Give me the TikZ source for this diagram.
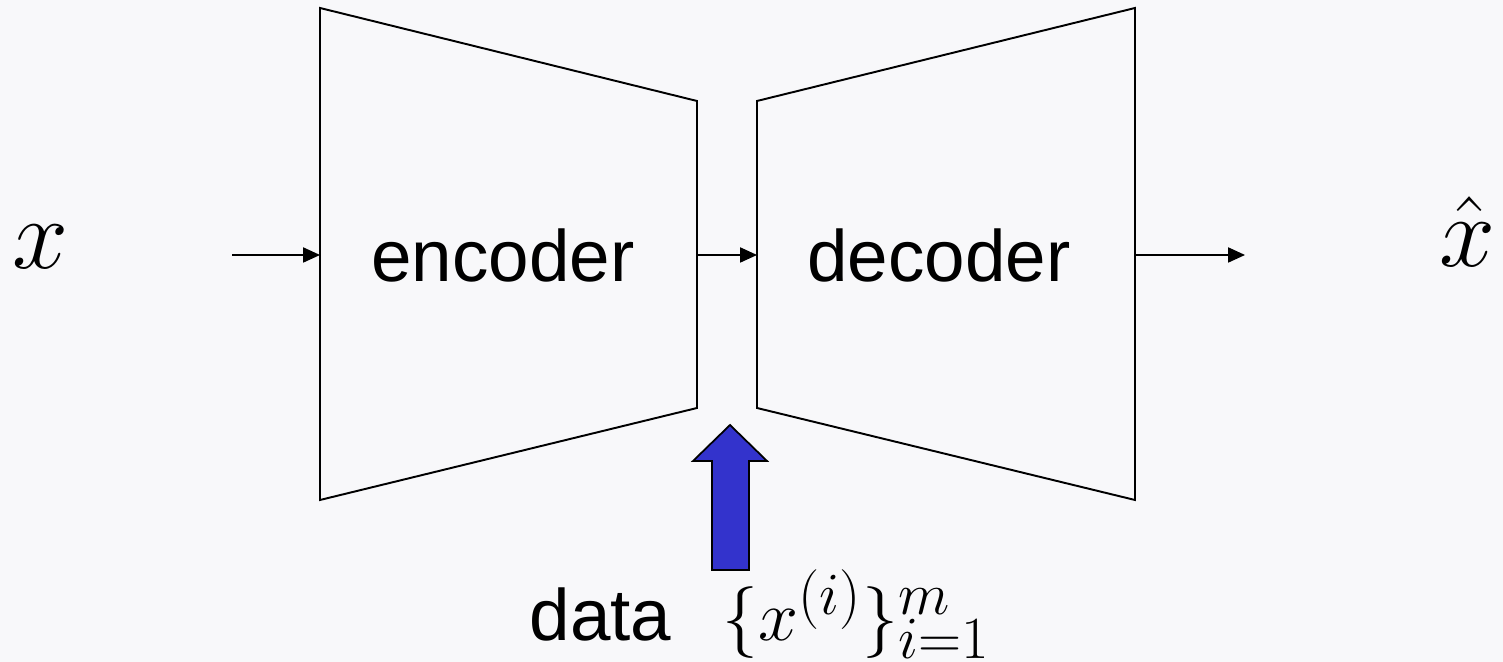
\documentclass[tikz,border=0pt]{standalone}
\usepackage{fontspec}
\setmainfont{Liberation Sans}
\usetikzlibrary{arrows.meta,positioning}
\definecolor{bgcol}{RGB}{248,248,250}
\definecolor{datablue}{RGB}{51,51,204}
\newcommand{\boxfont}{\fontsize{20.7}{25}\selectfont}
\newcommand{\mathfont}{\fontsize{24.88}{30}\selectfont}

\begin{document}
\begin{tikzpicture}[x=0.01cm,y=-0.01cm,>={Triangle[length=4.8pt,width=4.3pt]}]
  \fill[bgcol] (0,0) rectangle (1503,662);
  \useasboundingbox (0,0) rectangle (1503,662);
  % encoder and decoder blocks
  \draw[line width=0.55pt] (320,8) -- (697,101) -- (697,408) -- (320,500) -- cycle;
  \draw[line width=0.55pt] (1135,8) -- (757,101) -- (757,408) -- (1135,500) -- cycle;
  \node (enc) at (503,255) {\boxfont encoder};
  \node (dec) at (939,255) {\boxfont decoder};
  % input and output
  \node[anchor=base,scale=1.15] (xin) at (40,269) {\mathfont$x$};
  \node[anchor=base,scale=1.15] (xhat) at (1467,267) {\mathfont$\hat{x}$};
  \coordinate (xstart) at (232,255);
  \coordinate (encin) at (320,255);
  \coordinate (encout) at (697,255);
  \coordinate (decin) at (757,255);
  \coordinate (decout) at (1135,255);
  \coordinate (xend) at (1245,255);
  \draw[->,line width=0.4pt] (xstart) -- (encin);
  \draw[->,line width=0.4pt] (encout) -- (decin);
  \draw[->,line width=0.4pt] (decout) -- (xend);
  % training data
  \draw[fill=datablue,line width=0.5pt] (730,425) -- (767,461) -- (749,461) -- (749,570)
    -- (712,570) -- (712,461) -- (693,461) -- cycle;
  \node[anchor=base west,inner sep=0pt] (data) at (529,641) {\boxfont data};
  \node[anchor=base west,inner sep=0pt,scale=0.82] (datamath)
    at ([xshift=0.5cm]data.base east) {\mathfont$\{x^{(i)}\}_{i=1}^m$};
\end{tikzpicture}
\end{document}
